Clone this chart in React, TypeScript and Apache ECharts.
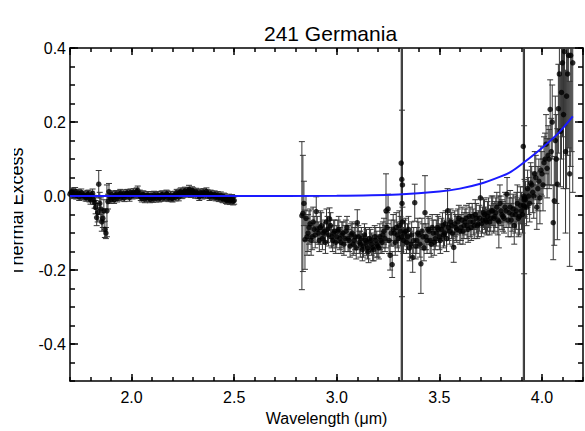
import React, { useEffect, useRef } from "react";
import * as echarts from "echarts";

// ---- Data ----
// Segment 1 (short-wavelength side), two interleaved sample sets
const wl1 = [1.70,1.71,1.72,1.73,1.74,1.75,1.76,1.77,1.78,1.79,1.80,1.81,1.82,1.83,1.84,1.85,1.86,1.87,1.88,1.89,
  1.90,1.91,1.92,1.93,1.94,1.95,1.96,1.97,1.98,1.99,2.00,2.01,2.02,2.03,2.04,2.05,2.06,2.07,2.08,2.09,
  2.10,2.11,2.12,2.13,2.14,2.15,2.16,2.17,2.18,2.19,2.20,2.21,2.22,2.23,2.24,2.25,2.26,2.27,2.28,2.29,
  2.30,2.31,2.32,2.33,2.34,2.35,2.36,2.37,2.38,2.39,2.40,2.41,2.42,2.43,2.44,2.45,2.46,2.47,2.48,2.49,2.50];
const ex1 = [0.005,0.012,0.006,0.002,0.008,0.004,0.001,0.003,-0.004,0.006,-0.010,0.007,-0.018,-0.058,0.032,-0.035,-0.060,-0.090,-0.040,0.012,
  -0.008,-0.005,0.002,-0.006,0.004,-0.003,0.006,0.002,0.008,-0.004,0.005,0.010,0.004,0.015,0.006,-0.006,0.003,-0.003,0.002,-0.008,
  -0.004,0.003,-0.006,0.001,-0.004,0.004,-0.002,0.006,-0.005,0.002,-0.006,0.003,0.008,-0.003,0.012,0.005,0.014,0.008,0.017,0.006,
  0.012,0.004,0.008,-0.002,0.006,0.010,0.003,0.007,-0.002,0.004,0.001,-0.003,0.002,-0.004,-0.006,-0.002,-0.010,-0.008,-0.013,-0.006,-0.012];
const er1 = [0.010,0.010,0.010,0.010,0.010,0.010,0.010,0.010,0.010,0.010,0.012,0.012,0.015,0.022,0.037,0.030,0.025,0.022,0.070,0.022,
  0.012,0.010,0.010,0.010,0.010,0.010,0.010,0.010,0.010,0.010,0.010,0.010,0.010,0.012,0.010,0.010,0.010,0.010,0.010,0.010,
  0.010,0.010,0.010,0.010,0.010,0.010,0.010,0.010,0.010,0.010,0.010,0.010,0.010,0.010,0.010,0.010,0.010,0.010,0.012,0.010,
  0.010,0.010,0.010,0.010,0.010,0.010,0.010,0.010,0.010,0.010,0.010,0.010,0.010,0.010,0.010,0.010,0.010,0.010,0.010,0.010,0.010];
const wl1b = [1.705,1.715,1.725,1.735,1.745,1.755,1.765,1.775,1.785,1.795,1.805,1.815,1.825,1.835,1.845,1.855,1.865,1.875,1.885,1.895,
  1.905,1.915,1.925,1.935,1.945,1.955,1.965,1.975,1.985,1.995,2.005,2.015,2.025,2.035,2.045,2.055,2.065,2.075,2.085,2.095,
  2.105,2.115,2.125,2.135,2.145,2.155,2.165,2.175,2.185,2.195,2.205,2.215,2.225,2.235,2.245,2.255,2.265,2.275,2.285,2.295,
  2.305,2.315,2.325,2.335,2.345,2.355,2.365,2.375,2.385,2.395,2.405,2.415,2.425,2.435,2.445,2.455,2.465,2.475,2.485,2.495];
const ex1b = [0.010,0.003,0.013,0.004,-0.002,0.009,0.002,-0.003,0.005,-0.006,0.003,-0.010,-0.030,-0.045,-0.020,-0.070,-0.040,-0.100,-0.015,-0.004,
  0.004,-0.010,0.005,-0.002,0.008,0.001,-0.005,0.007,0.003,0.009,0.002,0.006,0.012,0.003,-0.002,0.004,-0.008,0.001,-0.005,0.002,
  -0.007,-0.001,0.002,-0.006,0.003,-0.004,0.001,0.004,-0.002,-0.005,0.001,-0.003,0.005,0.009,0.003,0.011,0.007,0.013,0.010,0.015,
  0.008,0.011,0.003,0.009,0.002,0.007,0.012,0.004,0.006,0.000,0.004,-0.001,-0.005,0.001,-0.008,-0.004,-0.012,-0.005,-0.010,-0.014];
const er1b = [0.010,0.010,0.010,0.010,0.010,0.010,0.010,0.010,0.010,0.010,0.010,0.012,0.018,0.025,0.030,0.025,0.030,0.015,0.020,0.012,
  0.010,0.010,0.010,0.010,0.010,0.010,0.010,0.010,0.010,0.010,0.010,0.010,0.010,0.010,0.010,0.010,0.010,0.010,0.010,0.010,
  0.010,0.010,0.010,0.010,0.010,0.010,0.010,0.010,0.010,0.010,0.010,0.010,0.010,0.010,0.010,0.010,0.010,0.010,0.010,0.010,
  0.010,0.010,0.010,0.010,0.010,0.010,0.010,0.010,0.010,0.010,0.010,0.010,0.010,0.010,0.010,0.010,0.010,0.010,0.010,0.010];

// Segment 2 (long-wavelength side), two interleaved sample sets
const wl2 = [2.83,2.84,2.85,2.86,2.87,2.88,2.89,2.90,2.91,2.92,2.93,2.94,2.95,2.96,2.97,2.98,2.99,
  3.00,3.01,3.02,3.03,3.04,3.05,3.06,3.07,3.08,3.09,3.10,3.11,3.12,3.13,3.14,3.15,3.16,3.17,3.18,3.19,
  3.20,3.21,3.22,3.23,3.24,3.25,3.26,3.27,3.28,3.29,3.30,3.31,3.32,3.33,3.34,3.35,3.36,3.37,3.38,3.39,
  3.40,3.41,3.42,3.43,3.44,3.45,3.46,3.47,3.48,3.49,3.50,3.51,3.52,3.53,3.54,3.55,3.56,3.57,3.58,3.59,
  3.60,3.61,3.62,3.63,3.64,3.65,3.66,3.67,3.68,3.69,3.70,3.71,3.72,3.73,3.74,3.75,3.76,3.77,3.78,3.79,
  3.80,3.81,3.82,3.83,3.84,3.85,3.86,3.87,3.88,3.89,3.90,3.91,3.92,3.93,3.94,3.95,3.96,3.97,3.98,3.99,
  4.00,4.01,4.02,4.03];
const ex2 = [-0.053,-0.020,-0.060,-0.100,-0.075,-0.110,-0.090,-0.042,-0.100,-0.085,-0.115,-0.095,-0.070,-0.105,-0.080,-0.120,-0.095,
  -0.110,-0.090,-0.125,-0.100,-0.115,-0.085,-0.120,-0.105,-0.130,-0.110,-0.072,-0.125,-0.115,-0.135,-0.120,-0.140,-0.115,-0.130,-0.145,-0.120,
  -0.135,-0.110,-0.125,-0.095,-0.040,-0.035,-0.160,-0.185,-0.100,-0.085,-0.115,-0.095,-0.070,-0.100,-0.125,-0.090,-0.130,-0.166,-0.018,-0.120,
  -0.105,-0.183,-0.110,-0.045,-0.120,-0.095,-0.130,-0.100,-0.115,-0.085,-0.110,-0.090,-0.105,-0.075,-0.040,-0.095,-0.080,-0.139,-0.085,-0.070,
  -0.095,-0.065,-0.080,-0.060,-0.090,-0.070,-0.055,-0.080,-0.060,-0.075,-0.005,-0.065,-0.050,-0.070,-0.045,-0.060,-0.040,-0.055,-0.030,-0.070,
  -0.040,-0.055,-0.030,0.005,-0.045,-0.065,-0.035,-0.050,-0.020,-0.055,-0.040,-0.025,-0.010,0.020,-0.020,0.030,0.000,0.050,0.020,-0.005,
  0.060,0.090,0.140,0.110];
const er2 = [0.200,0.060,0.060,0.050,0.040,0.035,0.035,0.040,0.030,0.045,0.030,0.030,0.035,0.030,0.035,0.030,0.030,
  0.030,0.035,0.030,0.030,0.035,0.030,0.030,0.030,0.030,0.035,0.035,0.030,0.030,0.030,0.035,0.030,0.030,0.030,0.030,0.035,
  0.030,0.035,0.030,0.035,0.100,0.040,0.040,0.035,0.035,0.040,0.035,0.040,0.040,0.035,0.030,0.035,0.035,0.040,0.050,0.035,
  0.035,0.080,0.035,0.100,0.035,0.035,0.035,0.035,0.030,0.035,0.035,0.030,0.035,0.035,0.060,0.035,0.035,0.040,0.035,0.035,
  0.035,0.035,0.035,0.035,0.035,0.040,0.035,0.035,0.040,0.035,0.050,0.035,0.040,0.035,0.040,0.035,0.040,0.040,0.040,0.070,
  0.040,0.040,0.040,0.045,0.040,0.045,0.040,0.050,0.050,0.050,0.050,0.050,0.050,0.050,0.050,0.050,0.060,0.060,0.060,0.070,
  0.060,0.070,0.080,0.080];
const wl2b = [2.835,2.845,2.855,2.865,2.875,2.885,2.895,2.905,2.915,2.925,2.935,2.945,2.955,2.965,2.975,2.985,2.995,
  3.005,3.015,3.025,3.035,3.045,3.055,3.065,3.075,3.085,3.095,3.105,3.115,3.125,3.135,3.145,3.155,3.165,3.175,3.185,3.195,
  3.205,3.215,3.225,3.235,3.245,3.255,3.265,3.275,3.285,3.295,3.305,3.315,3.325,3.335,3.345,3.355,3.365,3.375,3.385,3.395,
  3.405,3.415,3.425,3.435,3.445,3.455,3.465,3.475,3.485,3.495,3.505,3.515,3.525,3.535,3.545,3.555,3.565,3.575,3.585,3.595,
  3.605,3.615,3.625,3.635,3.645,3.655,3.665,3.675,3.685,3.695,3.705,3.715,3.725,3.735,3.745,3.755,3.765,3.775,3.785,3.795,
  3.805,3.815,3.825,3.835,3.845,3.855,3.865,3.875,3.885,3.895,3.905,3.915,3.925,3.935,3.945,3.955,3.965,3.975,3.985,3.995,
  4.005,4.015,4.025];
const ex2b = [-0.047,-0.118,-0.110,-0.085,-0.120,-0.070,-0.105,-0.090,-0.120,-0.080,-0.100,-0.125,-0.090,-0.062,-0.110,-0.100,-0.125,
  -0.095,-0.115,-0.105,-0.130,-0.095,-0.115,-0.135,-0.100,-0.120,-0.140,-0.110,-0.130,-0.145,-0.105,-0.125,-0.150,-0.120,-0.140,-0.110,-0.130,
  -0.140,-0.120,-0.105,-0.115,-0.085,-0.120,-0.100,-0.090,-0.125,-0.105,-0.080,-0.110,-0.120,-0.095,-0.110,-0.140,-0.105,-0.120,-0.135,-0.100,
  -0.130,-0.095,-0.140,-0.110,-0.090,-0.120,-0.085,-0.125,-0.100,-0.090,-0.120,-0.080,-0.100,-0.115,-0.085,-0.070,-0.100,-0.075,-0.090,-0.060,
  -0.085,-0.095,-0.070,-0.080,-0.055,-0.085,-0.070,-0.050,-0.080,-0.060,-0.075,-0.045,-0.065,-0.055,-0.070,-0.040,-0.060,-0.045,-0.065,-0.020,
  -0.050,-0.060,-0.040,-0.065,-0.030,-0.050,-0.080,-0.040,-0.060,-0.025,-0.050,-0.005,-0.030,0.000,0.035,0.010,0.060,-0.030,0.040,0.070,
  0.030,0.100,0.075];
const er2b = [0.157,0.080,0.050,0.045,0.040,0.040,0.035,0.035,0.030,0.035,0.030,0.030,0.035,0.030,0.030,0.035,0.030,
  0.030,0.030,0.035,0.030,0.030,0.035,0.030,0.030,0.035,0.030,0.030,0.035,0.030,0.030,0.035,0.030,0.030,0.035,0.030,0.035,
  0.030,0.035,0.035,0.035,0.040,0.035,0.035,0.040,0.035,0.035,0.040,0.040,0.035,0.035,0.035,0.035,0.035,0.035,0.035,0.040,
  0.035,0.035,0.035,0.035,0.035,0.035,0.035,0.035,0.035,0.035,0.035,0.035,0.035,0.035,0.035,0.035,0.035,0.035,0.035,0.035,
  0.035,0.035,0.035,0.035,0.035,0.035,0.035,0.040,0.035,0.035,0.035,0.040,0.035,0.040,0.035,0.040,0.040,0.040,0.040,0.050,
  0.040,0.040,0.045,0.045,0.045,0.045,0.050,0.050,0.050,0.050,0.050,0.050,0.050,0.050,0.055,0.055,0.060,0.060,0.060,0.065,
  0.070,0.070,0.080];

// Segment 3 (noisy red end)
const wl3 = [4.035,4.04,4.045,4.05,4.055,4.06,4.065,4.07,4.075,4.08,4.085,4.09,4.095,4.10,4.105,4.11,4.115,4.12,4.125,4.13,4.135,4.14,4.145,4.15];
const ex3 = [0.100,0.234,0.120,0.200,-0.072,-0.013,0.150,0.100,0.032,0.236,0.330,0.175,0.280,0.360,0.220,0.390,0.120,0.270,0.330,0.380,0.060,0.380,0.420,0.360];
const er3 = [0.080,0.080,0.090,0.100,0.100,0.120,0.120,0.120,0.150,0.120,0.150,0.150,0.180,0.200,0.200,0.200,0.220,0.250,0.220,0.250,0.250,0.300,0.300,0.350];

// Outliers with huge error bars
const outWl = [3.314, 3.317, 3.318, 3.320, 3.909, 3.912, 3.913, 3.915];
const outEx = [0.089, 0.045, -0.020, 0.030, 0.134, 0.000, -0.010, -0.030];
const outEr = [1.200, 1.200, 0.252, 1.200, 1.200, 1.200, 0.200, 1.200];

// Model curve
const modelWl = [1.70, 2.50, 3.00, 3.30, 3.50, 3.60, 3.70, 3.80, 3.85, 3.91, 4.00, 4.08, 4.15];
const modelEx = [0.000, 0.000, 0.001, 0.0045, 0.012, 0.020, 0.033, 0.053, 0.066, 0.090, 0.130, 0.170, 0.215];

const xTickLabels = ["2.0", "2.5", "3.0", "3.5", "4.0"];
const yTickLabels = ["-0.4", "-0.2", "0.0", "0.2", "0.4"];

const FONT = "'Liberation Sans', Arial, Helvetica, sans-serif";

function triples(wl: number[], ex: number[], er: number[]) {
  return wl.map((w, i) => [w, ex[i], er[i]]);
}

export default function App() {
  const ref = useRef<HTMLDivElement>(null);
  useEffect(() => {
    const chart = echarts.init(ref.current!, null, { renderer: "svg" });
    const pts = [
      ...triples(wl1, ex1, er1),
      ...triples(wl1b, ex1b, er1b),
      ...triples(wl2, ex2, er2),
      ...triples(wl2b, ex2b, er2b),
      ...triples(wl3, ex3, er3),
      ...triples(outWl, outEx, outEr),
    ];
    const lineStyle = { color: "#000", width: 1.5 };
    const fmt = (v: number) => {
      const s = v.toFixed(1);
      return xTickLabels.includes(s) || yTickLabels.includes(s) ? s : "";
    };
    const xMajor = (pos: string, labels: boolean) => ({
      type: "value",
      position: pos,
      min: 1.7,
      max: 4.2,
      minInterval: 0.5,
      maxInterval: 0.5,
      splitNumber: 5,
      axisLine: { show: true, onZero: false, lineStyle },
      axisTick: { show: true, inside: true, length: 7, lineStyle },
      axisLabel: {
        show: labels, showMinLabel: false, showMaxLabel: false,
        color: "#000", fontSize: 16, fontFamily: FONT, margin: 8, formatter: fmt,
      },
      splitLine: { show: false },
      name: labels ? "Wavelength (\u03bcm)" : "",
      nameLocation: "middle",
      nameGap: 26,
      nameTextStyle: { color: "#000", fontSize: 16, fontFamily: FONT },
    });
    const xMinor = (pos: string) => ({
      type: "value",
      position: pos,
      min: 1.7,
      max: 4.2,
      minInterval: 0.1,
      maxInterval: 0.1,
      axisLine: { show: false, onZero: false },
      axisTick: { show: true, inside: true, length: 4, lineStyle },
      axisLabel: { show: false },
      splitLine: { show: false },
    });
    const yMajor = (pos: string, labels: boolean) => ({
      type: "value",
      position: pos,
      min: -0.5,
      max: 0.4,
      minInterval: 0.2,
      maxInterval: 0.2,
      splitNumber: 5,
      axisLine: { show: true, onZero: false, lineStyle },
      axisTick: { show: true, inside: true, length: 8, lineStyle },
      axisLabel: {
        show: labels, showMinLabel: false, showMaxLabel: true,
        color: "#000", fontSize: 16, fontFamily: FONT, margin: 4, formatter: fmt,
      },
      splitLine: { show: false },
    });
    const yMinor = (pos: string) => ({
      type: "value",
      position: pos,
      min: -0.5,
      max: 0.4,
      minInterval: 0.05,
      maxInterval: 0.05,
      axisLine: { show: false, onZero: false },
      axisTick: { show: true, inside: true, length: 5, lineStyle },
      axisLabel: { show: false },
      splitLine: { show: false },
    });

    const barColor = "#363636";
    chart.setOption({
      animation: false,
      backgroundColor: "#fff",
      title: {
        text: "241 Germania",
        left: 259,
        top: 18,
        textStyle: { color: "#000", fontSize: 21, fontWeight: "normal", fontFamily: FONT },
      },
      grid: { left: 70, right: 2, top: 48, bottom: 49, containLabel: false },
      xAxis: [xMajor("bottom", true), xMinor("bottom"), xMajor("top", false), xMinor("top")],
      yAxis: [yMajor("left", true), yMinor("left"), yMajor("right", false), yMinor("right")],
      graphic: [
        {
          type: "text",
          x: 17,
          y: 212,
          rotation: Math.PI / 2,
          z: 10,
          style: {
            text: "Thermal Excess",
            font: `18px ${FONT}`,
            fill: "#000",
            align: "center",
            verticalAlign: "middle",
            textAlign: "center",
            textVerticalAlign: "middle",
          },
        },
        {
          type: "rect",
          z: 20,
          shape: { x: 0, y: 100, width: 14, height: 230 },
          style: { fill: "#fff" },
        },
      ],
      series: [
        {
          type: "custom",
          xAxisIndex: 0,
          yAxisIndex: 0,
          clip: true,
          data: pts,
          encode: { x: 0, y: 1 },
          z: 2,
          renderItem: (_params: any, api: any) => {
            const x = api.value(0);
            const y = api.value(1);
            const e = api.value(2);
            const top = api.coord([x, y + e]);
            const bot = api.coord([x, y - e]);
            const hw = 3;
            const style = { stroke: barColor, lineWidth: 1 };
            return {
              type: "group",
              children: [
                { type: "line", shape: { x1: top[0], y1: top[1], x2: bot[0], y2: bot[1] }, style },
                { type: "line", shape: { x1: top[0] - hw, y1: top[1], x2: top[0] + hw, y2: top[1] }, style },
                { type: "line", shape: { x1: bot[0] - hw, y1: bot[1], x2: bot[0] + hw, y2: bot[1] }, style },
              ],
            };
          },
        },
        {
          type: "scatter",
          xAxisIndex: 0,
          yAxisIndex: 0,
          data: pts.map((p) => [p[0], p[1]]),
          symbol: "circle",
          symbolSize: 5.5,
          itemStyle: { color: "#000" },
          z: 3,
        },
        {
          type: "line",
          xAxisIndex: 0,
          yAxisIndex: 0,
          data: modelWl.map((w, i) => [w, modelEx[i]]),
          smooth: 0.3,
          showSymbol: false,
          symbol: "none",
          lineStyle: { color: "#1a1aff", width: 2 },
          z: 4,
        },
      ],
    });
    return () => chart.dispose();
  }, []);
  return (
    <div
      ref={ref}
      style={{ position: "absolute", left: 0, top: 0, width: 585, height: 431, background: "#fff" }}
    />
  );
}
